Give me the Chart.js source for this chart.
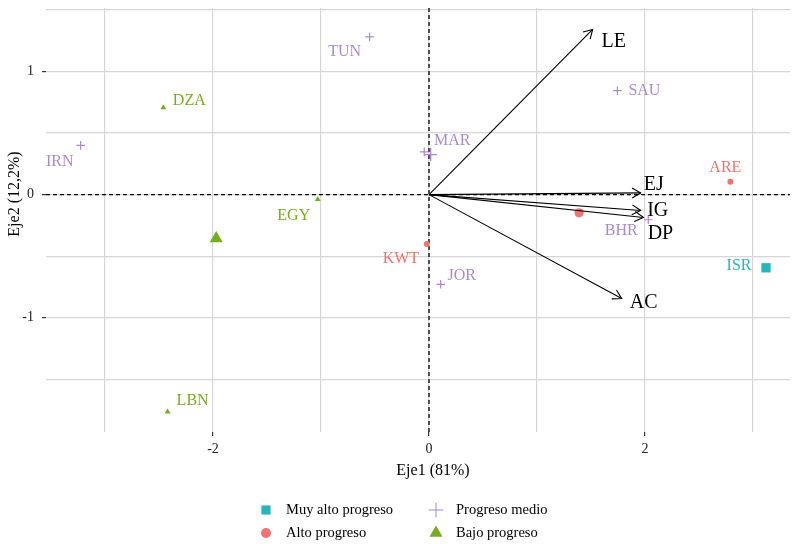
<!DOCTYPE html>
<html>
<head>
<meta charset="utf-8">
<script src="https://cdn.jsdelivr.net/npm/chart.js@4.4.1/dist/chart.umd.min.js"></script>
<style>
    html, body { margin: 0; padding: 0; background: #ffffff; overflow: hidden; }
    #wrap { width: 792px; height: 544px; overflow: hidden; }
</style>
</head>
<body>
<!-- canvas is a few px wider than the window so the panel reaches the right edge -->
<div id="wrap"><canvas id="biplot" width="798" height="544"></canvas></div>
<script>
// Individual scores (Eje1, Eje2) per group
const muyAltoNames = ["ISR"];
const muyAltoX = [3.12];
const muyAltoY = [-0.594];

const altoNames = ["KWT", "ARE"];
const altoX = [-0.02, 2.79];
const altoY = [-0.40, 0.105];

const medioNames = ["TUN", "IRN", "MAR", "SAU", "JOR", "BHR"];
const medioX = [-0.55, -3.225, -0.044, 1.744, 0.108, 2.03];
const medioY = [1.28, 0.40, 0.347, 0.844, -0.728, -0.204];

const bajoNames = ["DZA", "EGY", "LBN"];
const bajoX = [-2.46, -1.03, -2.42];
const bajoY = [0.707, -0.038, -1.763];

// Group centres (bigger marks)
const groupCentreX = [3.12, 1.389, 0.015, -1.97];
const groupCentreY = [-0.594, -0.148, 0.325, -0.357];

// Variable arrows
const varNames = ["LE", "EJ", "IG", "DP", "AC"];
const varX = [1.515, 1.96, 1.96, 1.985, 1.784];
const varY = [1.341, 0.014, -0.129, -0.185, -0.844];

// Axis ticks / grid
const xGrid = [-3, -2, -1, 0, 1, 2, 3];
const xLabelled = [-2, 0, 2];
const yGrid = [-1.5, -1, -0.5, 0, 0.5, 1, 1.5];
const yLabelled = [-1, 0, 1];

const groupLabels = ["Muy alto progreso", "Alto progreso", "Progreso medio", "Bajo progreso"];

// label nudges in pixels (style only)
const muyAltoNudge = [[-27, -2]];
const altoNudge = [[-26, 15], [-5, -14]];
const medioNudge = [[-25, 15], [-21, 16], [28, -11], [27, 0], [21, -9], [-27, 11]];
const bajoNudge = [[26, -7], [-24, 16], [25, -11]];
const varNudge = [[21, 12], [13, -8], [17, 0], [17, 16], [22, 4]];

const SERIF = '"Liberation Serif", "DejaVu Serif", serif';
const TEAL = "#26b6bf";
const RED = "#f1736b";
const PURPLE = "#ab89cf";
const GREEN = "#76ad1c";

function pts(xs, ys) {
    return xs.map((x, i) => ({ x: x, y: ys[i] }));
}

const groups = [
    { label: groupLabels[0], names: muyAltoNames, nudge: muyAltoNudge, x: muyAltoX, y: muyAltoY,
      color: TEAL, style: "rect", r: 4.6, bigR: 6.6, bw: 0, legendR: 6.5 },
    { label: groupLabels[1], names: altoNames, nudge: altoNudge, x: altoX, y: altoY,
      color: RED, style: "circle", r: 3, bigR: 4.6, bw: 0, legendR: 5 },
    { label: groupLabels[2], names: medioNames, nudge: medioNudge, x: medioX, y: medioY,
      color: PURPLE, style: "cross", r: 4.3, bigR: 6.5, bw: 1.2, legendR: 7.5 },
    { label: groupLabels[3], names: bajoNames, nudge: bajoNudge, x: bajoX, y: bajoY,
      color: GREEN, style: "triangle", r: 3.4, bigR: 7.5, bw: 0, legendR: 7.5 }
];

const datasets = [];

// arrows (line datasets from the origin)
varNames.forEach((name, i) => {
    datasets.push({
        kind: "arrow",
        varIndex: i,
        data: [{ x: 0, y: 0 }, { x: varX[i], y: varY[i] }],
        showLine: true,
        borderColor: "#000000",
        borderWidth: 1.1,
        pointRadius: 0,
        pointHoverRadius: 0,
        fill: false
    });
});

// group centres
groups.forEach((g, i) => {
    datasets.push({
        kind: "centre",
        data: [{ x: groupCentreX[i], y: groupCentreY[i] }],
        pointStyle: g.style,
        pointRadius: g.bigR,
        backgroundColor: g.color,
        borderColor: g.color,
        borderWidth: g.style === "cross" ? 1.4 : 0
    });
});

// individuals
groups.forEach((g) => {
    datasets.push({
        kind: "points",
        group: g,
        data: pts(g.x, g.y),
        pointStyle: g.style,
        pointRadius: g.r,
        backgroundColor: g.color,
        borderColor: g.color,
        borderWidth: g.bw
    });
});

const zeroLines = {
    id: "zeroLines",
    beforeDatasetsDraw(chart) {
        const { ctx, chartArea, scales } = chart;
        const x0 = scales.x.getPixelForValue(0);
        const y0 = scales.y.getPixelForValue(0);
        ctx.save();
        ctx.strokeStyle = "#000";
        ctx.lineWidth = 1.3;
        ctx.setLineDash([4, 3]);
        ctx.beginPath();
        ctx.moveTo(chartArea.left, y0);
        ctx.lineTo(chartArea.right, y0);
        ctx.moveTo(x0, chartArea.top);
        ctx.lineTo(x0, chartArea.bottom);
        ctx.stroke();
        ctx.restore();
    }
};

const decorations = {
    id: "decorations",
    afterDatasetsDraw(chart) {
        const ctx = chart.ctx;
        ctx.save();
        chart.data.datasets.forEach((ds, di) => {
            const meta = chart.getDatasetMeta(di);
            if (ds.kind === "arrow") {
                const a = meta.data[0], b = meta.data[1];
                const ang = Math.atan2(b.y - a.y, b.x - a.x);
                const len = 10, spread = Math.PI / 6;
                ctx.strokeStyle = "#000";
                ctx.lineWidth = 1.1;
                ctx.setLineDash([]);
                ctx.beginPath();
                ctx.moveTo(b.x - len * Math.cos(ang - spread), b.y - len * Math.sin(ang - spread));
                ctx.lineTo(b.x, b.y);
                ctx.lineTo(b.x - len * Math.cos(ang + spread), b.y - len * Math.sin(ang + spread));
                ctx.stroke();
                const nd = varNudge[ds.varIndex];
                ctx.fillStyle = "#000";
                ctx.font = "20px " + SERIF;
                ctx.textAlign = "center";
                ctx.textBaseline = "middle";
                ctx.fillText(varNames[ds.varIndex], b.x + nd[0], b.y + nd[1]);
            } else if (ds.kind === "points") {
                const g = ds.group;
                ctx.fillStyle = g.color;
                ctx.font = "16px " + SERIF;
                ctx.textAlign = "center";
                ctx.textBaseline = "middle";
                meta.data.forEach((el, i) => {
                    ctx.fillText(g.names[i], el.x + g.nudge[i][0], el.y + g.nudge[i][1]);
                });
            }
        });
        ctx.restore();
    },
    afterDraw(chart) {
        const ctx = chart.ctx;
        ctx.save();
        // axis titles
        ctx.fillStyle = "#000";
        ctx.font = "16px " + SERIF;
        ctx.textAlign = "center";
        ctx.textBaseline = "middle";
        ctx.fillText("Eje1 (81%)", 433, 471);
        ctx.translate(15, 194);
        ctx.rotate(-Math.PI / 2);
        ctx.fillText("Eje2 (12,2%)", 0, 0);
        ctx.restore();

        // legend, two columns
        ctx.save();
        const cols = [266, 436];
        const rows = [510, 533];
        const order = [[0, 0, 0], [1, 0, 1], [2, 1, 0], [3, 1, 1]];
        order.forEach(([gi, c, r]) => {
            const g = groups[gi];
            ctx.fillStyle = g.color;
            ctx.strokeStyle = g.color;
            ctx.lineWidth = g.style === "cross" ? 1 : 0;
            Chart.helpers.drawPoint(ctx, {
                pointStyle: g.style,
                radius: g.legendR,
                rotation: 0,
                borderWidth: g.style === "cross" ? 1 : 0
            }, cols[c], rows[r]);
            ctx.fillStyle = "#000";
            ctx.font = "14.5px " + SERIF;
            ctx.textAlign = "left";
            ctx.textBaseline = "middle";
            ctx.fillText(g.label, cols[c] + 20, rows[r]);
        });
        ctx.restore();
    }
};

new Chart(document.getElementById("biplot").getContext("2d"), {
    type: "scatter",
    data: { datasets: datasets },
    options: {
        responsive: false,
        animation: false,
        layout: { padding: { top: 5, right: 2, left: 0, bottom: 0 } },
        plugins: {
            legend: { display: false },
            tooltip: { enabled: false }
        },
        scales: {
            x: {
                type: "linear",
                min: -3.546,
                max: 3.343,
                afterBuildTicks: (s) => { s.ticks = xGrid.map((v) => ({ value: v })); },
                afterFit: (s) => {
                    s.height = 112;
                    s.paddingLeft = 0;
                    s.paddingRight = 0;
                },
                border: { display: false },
                grid: {
                    color: "#d6d6d6",
                    lineWidth: 1.2,
                    tickLength: 4,
                    tickWidth: 1.2,
                    tickColor: (c) => (c.tick && xLabelled.includes(c.tick.value) ? "#333" : "rgba(0,0,0,0)")
                },
                ticks: {
                    autoSkip: false,
                    maxRotation: 0,
                    padding: 5,
                    color: "#222",
                    font: { family: SERIF, size: 14 },
                    callback: (v) => (xLabelled.includes(v) ? String(v) : "")
                }
            },
            y: {
                type: "linear",
                min: -1.927,
                max: 1.516,
                afterBuildTicks: (s) => { s.ticks = yGrid.map((v) => ({ value: v })); },
                afterFit: (s) => {
                    s.width = 46;
                    s.paddingTop = 0;
                    s.paddingBottom = 0;
                },
                border: { display: false },
                grid: {
                    color: "#d6d6d6",
                    lineWidth: 1.2,
                    tickLength: 4,
                    tickWidth: 1.2,
                    tickColor: (c) => (c.tick && yLabelled.includes(c.tick.value) ? "#333" : "rgba(0,0,0,0)")
                },
                ticks: {
                    autoSkip: false,
                    padding: 8,
                    color: "#222",
                    font: { family: SERIF, size: 14 },
                    callback: (v) => (yLabelled.includes(v) ? String(v) : "")
                }
            }
        }
    },
    plugins: [zeroLines, decorations]
});
</script>
</body>
</html>
